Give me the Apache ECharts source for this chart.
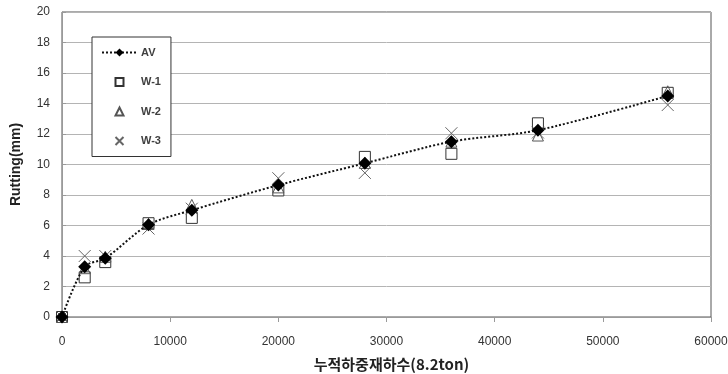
<!DOCTYPE html>
<html><head><meta charset="utf-8">
<script src="https://cdn.jsdelivr.net/npm/echarts@6/dist/echarts.min.js"></script>
<style>html,body{margin:0;padding:0;background:#fff}#c{width:728px;height:374px}</style>
</head><body><div id="c"></div>
<script>
var loads = [0, 2100, 4000, 8000, 12000, 20000, 28000, 36000, 44000, 56000];
var av  = [0, 3.3, 3.85, 6.05, 7.0, 8.65, 10.08, 11.5, 12.25, 14.5];
var w1  = [0, 2.6, 3.6, 6.15, 6.5, 8.3, 10.5, 10.7, 12.7, 14.7];
var w2  = [0, 3.2, 3.95, 6.1, 7.35, 8.5, 10.1, 11.5, 11.9, 14.8];
var w3  = [0, 4.0, 4.0, 5.8, 7.1, 9.1, 9.45, 12.05, 12.1, 13.9];
var yTicks = [0, 20, 2];
var xTicks = [0, 60000, 10000];

function pairs(v){ return loads.map(function(x,i){ return [x, v[i]]; }); }
var font = 'Liberation Sans, Arial, sans-serif';
var chart = echarts.init(document.getElementById('c'));
chart.setOption({
  animation: false,
  backgroundColor: '#fff',
  grid: {left: 62, right: 17, top: 12, bottom: 57, show: true, borderColor: '#555', borderWidth: 1,
         containLabel: false, outerBoundsMode: 'none'},
  legend: {
    orient: 'vertical', left: 92, top: 37,
    backgroundColor: '#fff', borderColor: '#333', borderWidth: 1,
    padding: [10, 10, 10, 9], itemGap: 18.5, itemWidth: 35, itemHeight: 10,
    data: ['AV', 'W-1', 'W-2', 'W-3'],
    textStyle: {fontFamily: font, fontSize: 11, fontWeight: 'bold', color: '#404040', padding: [0,0,0,-1]}
  },
  xAxis: {
    type: 'value', min: xTicks[0], max: xTicks[1], interval: xTicks[2],
    name: '누적하중재하수(8.2ton)', nameLocation: 'middle', nameGap: 40,
    nameTextStyle: {fontFamily: 'Noto Sans CJK KR', fontSize: 15, fontWeight: 'bold', color: '#222', padding: [0,0,0,10]},
    axisLine: {show: true, lineStyle: {color: '#9a9a9a', width: 1}},
    axisTick: {show: true, inside: false, length: 5, lineStyle: {color: '#9a9a9a'}},
    axisLabel: {fontFamily: font, fontSize: 12, color: '#333', margin: 19, formatter: function(v){ return String(v); }},
    splitLine: {show: false}
  },
  yAxis: {
    type: 'value', min: yTicks[0], max: yTicks[1], interval: yTicks[2],
    name: 'Rutting(mm)', nameLocation: 'middle', nameGap: 39,
    nameTextStyle: {fontFamily: font, fontSize: 14, fontWeight: 'bold', color: '#222'},
    axisLine: {show: true, lineStyle: {color: '#9a9a9a', width: 1}},
    axisTick: {show: true, inside: true, length: 4, lineStyle: {color: '#9a9a9a'}},
    axisLabel: {fontFamily: font, fontSize: 12, color: '#333', margin: 12},
    splitLine: {show: true, lineStyle: {color: '#b4b4b4', width: 1}}
  },
  series: [
    {name: 'W-1', type: 'line', data: pairs(w1), symbol: 'rect', symbolSize: 11,
     lineStyle: {width: 0, opacity: 0}, itemStyle: {color: '#fff', borderColor: '#333', borderWidth: 1}, z: 2},
    {name: 'W-2', type: 'line', data: pairs(w2), symbol: 'triangle', symbolSize: 11,
     lineStyle: {width: 0, opacity: 0}, itemStyle: {color: 'rgba(255,255,255,0)', borderColor: '#555', borderWidth: 1}, z: 3},
    {name: 'W-3', type: 'line', data: pairs(w3), symbol: 'path://M0,0L10,10M10,0L0,10', symbolSize: 12,
     lineStyle: {width: 0, opacity: 0}, itemStyle: {color: 'rgba(0,0,0,0)', borderColor: '#666', borderWidth: 1}, z: 4},
    {name: 'AV', type: 'line', data: pairs(av), symbol: 'diamond', symbolSize: 13, smooth: 0.3,
     lineStyle: {color: '#111', width: 2, type: [2, 2]}, itemStyle: {color: '#000'}, z: 5}
  ]
});
</script></body></html>
